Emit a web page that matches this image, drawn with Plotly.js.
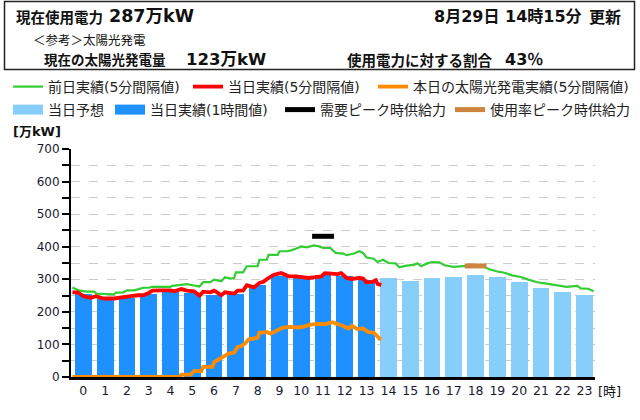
<!DOCTYPE html>
<html>
<head>
<meta charset="utf-8">
<script src="https://cdn.plot.ly/plotly-3.0.1.min.js"></script>
<style>html,body{margin:0;padding:0;background:#fff;}#chart{width:640px;height:420px;}</style>
</head>
<body>
<div id="chart"></div>
<script>
// ---- data (万kW) ----
const hourLabels = ['0','1','2','3','4','5','6','7','8','9','10','11','12','13','14','15','16','17','18','19','20','21','22','23'];
const hours = [0,1,2,3,4,5,6,7,8,9,10,11,12,13,14,15,16,17,18,19,20,21,22,23];

const actualHours = [0,1,2,3,4,5,6,7,8,9,10,11,12,13];
const actualValues = [254,241,242,254,262,258,252,256,284,310,303,312,310,298];

const forecastHours = [14,15,16,17,18,19,20,21,22,23];
const forecastValues = [305,296,305,308,314,308,293,274,262,253];

const demandPeakHour = [11];
const demandPeakSupply = [432];
const usagePeakHour = [18];
const usagePeakSupply = [341];

// previous-day actual (5-min values), time in hours
const prevTimes = [0,0.33,0.67,1.0,1.1,1.5,1.9,2.0,2.33,2.5,2.83,3.0,3.25,3.5,3.67,4.0,4.5,4.58,5.0,5.25,5.58,5.83,6.0,6.33,6.5,6.83,7.0,7.25,7.42,7.5,7.83,8.0,8.5,8.58,8.92,9.0,9.42,9.5,9.83,10.0,10.25,10.5,10.75,11.08,11.33,11.5,11.83,12.08,12.42,12.58,12.92,13.17,13.33,13.5,13.83,14.0,14.25,14.5,14.83,15.0,15.33,15.67,15.83,16.0,16.25,16.5,16.83,17.08,17.5,17.83,18.08,18.83,19.17,19.5,19.83,20.17,20.58,20.92,21.33,21.83,22.17,22.67,23.17,23.33,23.67,23.92];
const prevValues = [275,265,262,262,256,254,254,259,260,266,266,269,274,274,277,277,277,280,283,285,281,278,291,291,299,294,306,302,304,321,321,340,340,360,360,375,375,386,386,388,394,401,398,404,401,396,396,381,379,374,379,386,381,367,363,353,360,350,349,337,342,344,349,340,348,353,352,343,338,340,341,339,330,324,320,312,307,299,291,286,282,277,280,272,271,263];

// today's actual (5-min values)
const todayTimes = [0,0.25,0.5,0.83,1.08,1.25,1.42,1.92,2.08,2.42,2.67,3.0,3.25,3.5,3.67,4.0,4.5,4.67,5.0,5.25,5.58,5.83,6.0,6.33,6.5,6.67,6.83,7.0,7.25,7.42,7.58,7.83,8.0,8.33,8.58,8.75,9.0,9.25,9.58,9.92,10.25,10.5,10.83,11.17,11.42,11.58,11.83,12.17,12.33,12.58,12.83,13.17,13.33,13.5,13.75,13.92,14.0,14.17];
const todayValues = [260,260,248,243,248,245,241,241,243,245,248,251,251,258,265,266,266,263,270,265,263,250,262,260,265,258,251,260,256,256,265,265,282,275,289,292,304,314,319,309,309,307,304,307,309,319,317,316,319,304,301,304,302,291,292,297,286,282];

// today's solar generation (5-min values)
const solarTimes = [0,4.92,5.0,5.42,5.58,5.92,6.0,6.42,6.5,6.67,6.92,7.17,7.42,7.58,7.75,7.92,8.08,8.33,8.5,8.58,8.92,9.08,9.33,9.67,10.0,10.33,10.58,10.92,11.25,11.58,11.92,12.17,12.33,12.67,12.83,13.08,13.33,13.58,13.83,14.0,14.08,14.17];
const solarValues = [0,0,7,7,18,18,31,31,46,53,62,72,75,92,95,103,115,118,121,136,138,133,142,152,154,152,154,161,163,162,168,164,159,149,157,147,149,138,136,125,118,116];

const legendNames = ['前日実績(5分間隔値)','当日実績(5分間隔値)','本日の太陽光発電実績(5分間隔値)','当日予想','当日実績(1時間値)','需要ピーク時供給力','使用率ピーク時供給力'];

// ---- helpers ----
const W = 640, H = 420, ML = 71, MR = 45, MT = 149, MB = 43;
const PW = W - ML - MR, PH = H - MT - MB;
const px = x => (x - ML) / PW;
const py = y => (H - MB - y) / PH;
const toAxis = ts => ts.map(t => t - 0.5);  // 5-min time → hour-slot axis

const FONT = 'DejaVu Sans, Noto Sans CJK JP, sans-serif';
const CJK = 'Noto Sans CJK JP, DejaVu Sans, sans-serif';
const C = {green:'#32CD32', red:'#FF0000', orange:'#FF8C00', light:'#87CEFA', blue:'#1E90FF', black:'#000000', brown:'#CD853F'};

const traces = [
  {type:'bar', x:forecastHours, y:forecastValues, width:0.77, marker:{color:C.light}, showlegend:false, hoverinfo:'skip'},
  {type:'bar', x:actualHours, y:actualValues, width:0.77, marker:{color:C.blue}, showlegend:false, hoverinfo:'skip'},
  {type:'scatter', mode:'lines', x:toAxis(prevTimes), y:prevValues, line:{color:C.green, width:2.2}, name:legendNames[0], legend:'legend'},
  {type:'scatter', mode:'lines', x:toAxis(solarTimes), y:solarValues, line:{color:C.orange, width:3.8}, name:legendNames[2], legend:'legend3', cliponaxis:false},
  {type:'scatter', mode:'lines', x:toAxis(todayTimes), y:todayValues, line:{color:C.red, width:3.8}, name:legendNames[1], legend:'legend2'},
  {type:'scatter', mode:'markers', x:demandPeakHour, y:demandPeakSupply, marker:{symbol:'line-ew', size:15.6, color:C.black, line:{color:C.black, width:5}}, showlegend:false, hoverinfo:'skip'},
  {type:'scatter', mode:'markers', x:usagePeakHour, y:usagePeakSupply, marker:{symbol:'line-ew', size:15.6, color:C.brown, line:{color:C.brown, width:5}}, showlegend:false, hoverinfo:'skip'},
  // legend entries for bars / peak marks
  {type:'scatter', mode:'lines', x:[null], y:[null], line:{color:C.light, width:11}, name:legendNames[3], legend:'legend4'},
  {type:'scatter', mode:'lines', x:[null], y:[null], line:{color:C.blue, width:11}, name:legendNames[4], legend:'legend5'},
  {type:'scatter', mode:'lines', x:[null], y:[null], line:{color:C.black, width:5}, name:legendNames[5], legend:'legend6'},
  {type:'scatter', mode:'lines', x:[null], y:[null], line:{color:C.brown, width:5}, name:legendNames[6], legend:'legend7'}
];

function leg(xPix, yPix) {
  return {x:px(xPix), y:py(yPix), xanchor:'left', yanchor:'middle', orientation:'h',
          bgcolor:'rgba(0,0,0,0)', borderwidth:0, font:{family:FONT, size:14, color:'#222'},
          itemclick:false, itemdoubleclick:false};
}

function ann(text, xPix, yPix, size, bold, anchor, fam) {
  return {text: bold ? '<b>' + text + '</b>' : text, xref:'paper', yref:'paper', x:px(xPix), y:py(yPix),
          xanchor:anchor || 'left', yanchor:'middle', showarrow:false,
          font:{family:fam || FONT, size:size, color:'#111'}};
}

const layout = {
  width:W, height:H, margin:{l:ML, r:MR, t:MT, b:MB, autoexpand:false},
  paper_bgcolor:'#fff', plot_bgcolor:'#fff',
  font:{family:FONT, size:13, color:'#222'},
  barmode:'overlay', bargap:0,
  xaxis:{range:[-0.565, 23.48], tickvals:hours, ticktext:hourLabels, showgrid:false, zeroline:false,
         showline:true, linecolor:'#000', linewidth:3, ticks:'', tickfont:{family:FONT, size:12.5, color:'#1a1a33'},
         fixedrange:true},
  yaxis:{range:[0,700], tick0:0, dtick:100, showline:true, linecolor:'#000', linewidth:2,
         ticks:'outside', ticklen:7, tickwidth:2, tickcolor:'#000', zeroline:false,
         gridcolor:'#cccccc', griddash:'dash', gridwidth:1,
         tickfont:{family:FONT, size:12, color:'#1a1a33'},
         minor:{dtick:50, ticks:'outside', ticklen:7, tickwidth:2, tickcolor:'#000', showgrid:true, gridcolor:'#cccccc', griddash:'dash', gridwidth:1},
         fixedrange:true},
  legend:leg(8, 87), legend2:leg(188, 87), legend3:leg(373, 87),
  legend4:leg(8, 110), legend5:leg(110, 110), legend6:leg(280, 110), legend7:leg(450, 110),
  shapes:[
    {type:'rect', xref:'paper', yref:'paper', x0:px(4.5), x1:px(634.5), y0:py(69.5), y1:py(1.5), line:{color:'#222', width:1.5}, fillcolor:'rgba(0,0,0,0)'}
  ],
  annotations:[
    ann('現在使用電力', 14, 16, 14.5, true, 'left', CJK),
    ann('287万kW', 107, 16, 17.5, true),
    ann('8月29日', 432, 16, 16, true),
    ann('14時15分', 503, 16, 16, true),
    ann('更新', 623, 16, 16, true, 'right', CJK),
    ann('＜参考＞太陽光発電', 31, 39, 12.5, false, 'left', CJK),
    ann('現在の太陽光発電量', 42, 59, 13.5, true, 'left', CJK),
    ann('123万kW', 184, 59, 16.5, true),
    ann('使用電力に対する割合', 345, 59, 14.5, true, 'left', CJK),
    ann('43％', 503, 59, 16, true),
    ann('[万kW]', 11, 131, 13, true),
    ann('[時]', 596, 391, 13, false)
  ]
};

Plotly.newPlot('chart', traces, layout, {displayModeBar:false, staticPlot:true});
</script>
</body>
</html>
